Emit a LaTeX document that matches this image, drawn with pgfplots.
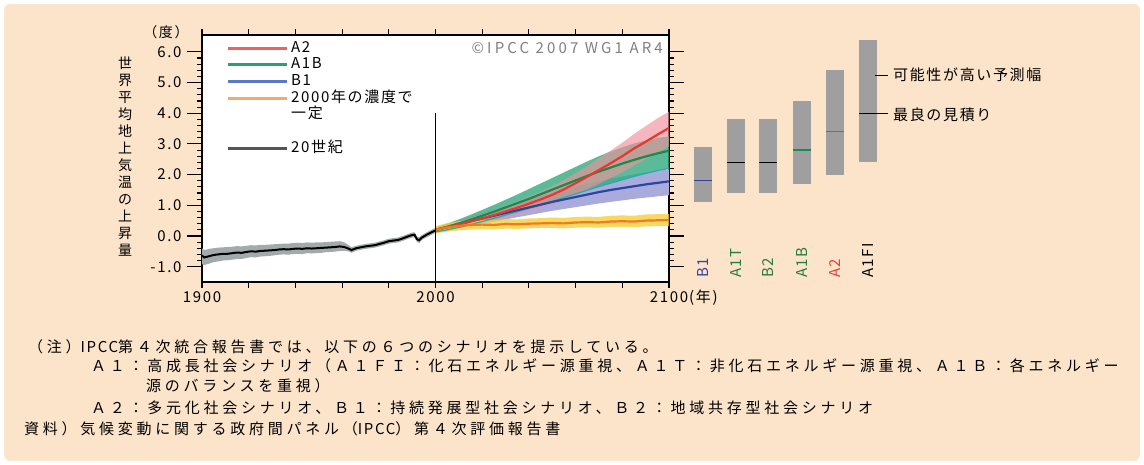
\documentclass[border=0pt]{standalone}
\usepackage{fontspec}
\setmainfont{Noto Sans CJK JP}
\newfontfamily\jpA{Noto Sans CJK JP}[LetterSpace=11]
\newfontfamily\jpB{Noto Sans CJK JP}[LetterSpace=25]
\newfontfamily\jpC{Noto Sans CJK JP}[LetterSpace=21]
\usepackage{pgfplots}
\pgfplotsset{compat=1.18}
\usepackage{pgfplotstable}
\usepgfplotslibrary{fillbetween}
\definecolor{peach}{HTML}{FCE4CA}
\definecolor{a2line}{HTML}{E8372E}
\definecolor{a2band}{HTML}{F0909A}
\definecolor{a1bline}{HTML}{1B8A4E}
\definecolor{a1bband}{HTML}{33AA80}
\definecolor{tealline}{HTML}{1FB0B0}
\definecolor{b1line}{HTML}{2B45A0}
\definecolor{b1band}{HTML}{A9ABDD}
\definecolor{orline}{HTML}{F07A1E}
\definecolor{yelband}{HTML}{F5CF3A}
\definecolor{grayband}{HTML}{A2ABAB}
\definecolor{lgA2}{HTML}{F06060}
\definecolor{lgA1B}{HTML}{2AA070}
\definecolor{lgB1}{HTML}{5A78C8}
\definecolor{lgOr}{HTML}{F8A868}
\definecolor{lgXX}{HTML}{555555}
\definecolor{barg}{HTML}{9F9F9F}
\definecolor{cpgray}{HTML}{808080}
\definecolor{lbblue}{HTML}{3344A0}
\definecolor{lbgreen}{HTML}{2A7A3A}
\definecolor{lbred}{HTML}{F03A3A}
\pagecolor{peach}

\pgfplotstableread{
year mean lo hi
1900 -0.64 -0.92 -0.40
1901 -0.70 -0.95 -0.46
1903 -0.66 -0.90 -0.42
1905 -0.62 -0.85 -0.40
1907 -0.60 -0.83 -0.38
1909 -0.58 -0.80 -0.37
1911 -0.58 -0.79 -0.36
1913 -0.56 -0.77 -0.35
1915 -0.54 -0.75 -0.33
1917 -0.55 -0.75 -0.34
1919 -0.52 -0.72 -0.32
1921 -0.50 -0.69 -0.30
1923 -0.51 -0.70 -0.31
1925 -0.49 -0.67 -0.29
1927 -0.48 -0.66 -0.29
1929 -0.47 -0.65 -0.28
1931 -0.46 -0.63 -0.27
1933 -0.44 -0.61 -0.26
1935 -0.43 -0.60 -0.25
1937 -0.44 -0.61 -0.25
1939 -0.42 -0.59 -0.23
1941 -0.41 -0.58 -0.22
1943 -0.42 -0.59 -0.23
1945 -0.40 -0.56 -0.21
1947 -0.41 -0.57 -0.22
1949 -0.40 -0.56 -0.21
1951 -0.39 -0.55 -0.21
1953 -0.38 -0.53 -0.20
1955 -0.37 -0.52 -0.19
1957 -0.36 -0.51 -0.18
1959 -0.34 -0.49 -0.17
1961 -0.36 -0.48 -0.21
1963 -0.42 -0.51 -0.31
1964 -0.46 -0.55 -0.37
1966 -0.40 -0.48 -0.32
1968 -0.37 -0.45 -0.29
1970 -0.34 -0.42 -0.26
1972 -0.32 -0.40 -0.24
1974 -0.30 -0.38 -0.22
1976 -0.26 -0.34 -0.18
1978 -0.22 -0.30 -0.14
1980 -0.17 -0.25 -0.09
1982 -0.15 -0.23 -0.07
1984 -0.13 -0.21 -0.05
1986 -0.08 -0.16 0.00
1988 -0.02 -0.10 0.06
1990 0.03 -0.05 0.11
1991 0.04 -0.04 0.12
1992 -0.10 -0.19 -0.01
1993 -0.14 -0.23 -0.05
1994 -0.06 -0.14 0.02
1996 0.03 -0.05 0.11
1998 0.11 0.03 0.19
2000 0.18 0.10 0.26
}\tC

\pgfplotstableread{
year mean lo hi
2000 0.20 0.13 0.27
2005 0.28 0.19 0.37
2010 0.37 0.26 0.48
2015 0.47 0.34 0.60
2020 0.57 0.42 0.72
2025 0.68 0.51 0.85
2030 0.80 0.60 0.99
2035 0.92 0.70 1.13
2040 1.05 0.80 1.28
2045 1.19 0.92 1.44
2050 1.34 1.04 1.62
2055 1.52 1.18 1.82
2060 1.72 1.34 2.04
2065 1.93 1.52 2.28
2070 2.15 1.70 2.53
2075 2.37 1.89 2.78
2080 2.60 2.08 3.04
2085 2.85 2.29 3.32
2090 3.07 2.50 3.58
2095 3.30 2.71 3.83
2100 3.52 2.92 4.05
}\tA

\pgfplotstableread{
year mean lo hi
2000 0.20 0.13 0.27
2005 0.30 0.20 0.40
2010 0.41 0.28 0.54
2015 0.53 0.37 0.69
2020 0.66 0.47 0.85
2025 0.79 0.57 1.01
2030 0.93 0.68 1.18
2035 1.07 0.79 1.35
2040 1.21 0.90 1.53
2045 1.36 1.01 1.71
2050 1.51 1.13 1.89
2055 1.66 1.25 2.07
2060 1.81 1.37 2.25
2065 1.96 1.49 2.43
2070 2.10 1.61 2.60
2075 2.23 1.72 2.75
2080 2.36 1.83 2.89
2085 2.48 1.94 3.01
2090 2.59 2.04 3.11
2095 2.69 2.13 3.19
2100 2.78 2.20 3.25
}\tB

\pgfplotstableread{
year mean lo hi
2000 0.20 0.13 0.27
2005 0.29 0.19 0.39
2010 0.38 0.26 0.50
2015 0.48 0.33 0.62
2020 0.57 0.40 0.74
2025 0.66 0.47 0.86
2030 0.75 0.54 0.97
2035 0.84 0.61 1.08
2040 0.93 0.68 1.19
2045 1.02 0.75 1.30
2050 1.11 0.82 1.41
2055 1.19 0.88 1.51
2060 1.27 0.94 1.61
2065 1.35 1.00 1.70
2070 1.43 1.06 1.79
2075 1.50 1.11 1.87
2080 1.56 1.16 1.94
2085 1.62 1.21 2.01
2090 1.68 1.25 2.07
2095 1.73 1.29 2.12
2100 1.78 1.33 2.17
}\tBone

\pgfplotstableread{
year mean lo hi
2000 0.20 0.08 0.32
2005 0.28 0.14 0.42
2010 0.33 0.18 0.48
2015 0.36 0.21 0.51
2020 0.37 0.22 0.53
2025 0.36 0.21 0.52
2030 0.39 0.24 0.55
2035 0.38 0.23 0.54
2040 0.40 0.25 0.57
2045 0.41 0.26 0.58
2050 0.42 0.26 0.60
2055 0.41 0.25 0.59
2060 0.44 0.27 0.62
2065 0.45 0.28 0.63
2070 0.44 0.27 0.62
2075 0.47 0.29 0.66
2080 0.48 0.30 0.67
2085 0.47 0.29 0.66
2090 0.50 0.31 0.70
2095 0.51 0.32 0.71
2100 0.52 0.32 0.72
}\tO

\begin{document}
\begin{tikzpicture}[x=1pt,y=1pt]
\fill[white, even odd rule] (0,0) rectangle (1144,465) [rounded corners=6pt] (4,4) rectangle (1140,461);

\begin{axis}[
  at={(202pt,183pt)}, anchor=south west, scale only axis,
  width=467pt, height=247pt,
  xmin=1900, xmax=2100, ymin=-1.5, ymax=6.55,
  axis background/.style={fill=white},
  axis line style={line width=1.1pt},
  xtick=\empty,
  extra x ticks={1900,1920,...,2100},
  extra x tick labels={1900,,,,,2000,,,,,2100},
  extra x tick style={major tick length=6pt},
  ytick={-1,0,...,6},
  yticklabels={-1.0,0.0,1.0,2.0,3.0,4.0,5.0,6.0},
  minor y tick num=4,
  tick align=outside,
  xtick pos=both, ytick pos=both,
  xticklabel pos=bottom, yticklabel pos=left,
  major tick length=15pt, minor tick length=5pt,
  tick style={line width=1.1pt, black},
  /pgf/number format/assume math mode=true,
  tick label style={font=\jpA\fontsize{15}{15}\selectfont},
  yticklabel style={xshift=-2pt},
  legend image code/.code={\draw[#1] (0pt,0pt) -- (59pt,0pt); \path (62pt,0pt);},
  legend style={at={(rel axis cs:0.0514,0.976)}, anchor=north west, draw=none, fill=none,
    inner sep=0pt, row sep=2.7pt, font=\jpA\fontsize{15}{15}\selectfont,
    nodes={inner sep=0pt, text height=11pt, text depth=3pt}, cells={anchor=west}},
]
\addlegendimage{lgA2, line width=3pt}\addlegendentry{A2}
\addlegendimage{lgA1B, line width=3pt}\addlegendentry{A1B}
\addlegendimage{lgB1, line width=3pt}\addlegendentry{B1}
\addlegendimage{lgOr, line width=3pt}\addlegendentry{2000年の濃度で}
\addlegendimage{empty legend}\addlegendentry{一定}
\addlegendimage{empty legend}\addlegendentry{\phantom{一}}
\addlegendimage{lgXX, line width=3pt}\addlegendentry{20世紀}

% 20th century
\addplot[draw=none, name path=chi, forget plot] table[x=year,y=hi]{\tC};
\addplot[draw=none, name path=clo, forget plot] table[x=year,y=lo]{\tC};
\addplot[fill=grayband, draw=none, forget plot] fill between[of=chi and clo];
\addplot[black, line width=2pt, forget plot] table[x=year,y=mean]{\tC};

% bands
\addplot[draw=none, name path=bhi, forget plot] table[x=year,y=hi]{\tBone};
\addplot[draw=none, name path=blo, forget plot] table[x=year,y=lo]{\tBone};
\addplot[fill=b1band, draw=none, forget plot] fill between[of=bhi and blo];
\addplot[draw=none, name path=ghi, forget plot] table[x=year,y=hi]{\tB};
\addplot[draw=none, name path=glo, forget plot] table[x=year,y=lo]{\tB};
\addplot[fill=a1bband, fill opacity=0.8, draw=none, forget plot] fill between[of=ghi and glo];
\addplot[draw=none, name path=rhi, forget plot] table[x=year,y=hi]{\tA};
\addplot[draw=none, name path=rlo, forget plot] table[x=year,y=lo]{\tA};
\addplot[fill=a2band, fill opacity=0.65, draw=none, forget plot] fill between[of=rhi and rlo];
\addplot[draw=none, name path=ohi, forget plot] table[x=year,y=hi]{\tO};
\addplot[draw=none, name path=olo, forget plot] table[x=year,y=lo]{\tO};
\addplot[fill=yelband, fill opacity=0.8, draw=none, forget plot] fill between[of=ohi and olo];

% lines
\addplot[tealline, line width=1.2pt, forget plot] table[x=year,y=lo]{\tB};
\addplot[b1line, line width=2.2pt, forget plot] table[x=year,y=mean]{\tBone};
\addplot[a1bline, line width=2.2pt, forget plot] table[x=year,y=mean]{\tB};
\addplot[a2line, line width=2.2pt, forget plot] table[x=year,y=mean]{\tA};
\addplot[orline, line width=2.2pt, forget plot] table[x=year,y=mean]{\tO};

\addplot[black, line width=1.1pt, forget plot] coordinates {(2000,-1.5) (2000,4.0)};
\end{axis}

% right panel
\begin{axis}[
  at={(680pt,183pt)}, anchor=south west, scale only axis,
  width=220pt, height=247pt,
  xmin=680, xmax=900, ymin=-1.5, ymax=6.55,
  hide axis, clip=false,
]
\addplot[fill=barg, draw=none] coordinates {(693.5,1.1) (711.5,1.1) (711.5,2.9) (693.5,2.9)} -- cycle;
\addplot[fill=barg, draw=none] coordinates {(726.5,1.4) (744.5,1.4) (744.5,3.8) (726.5,3.8)} -- cycle;
\addplot[fill=barg, draw=none] coordinates {(759,1.4) (777,1.4) (777,3.8) (759,3.8)} -- cycle;
\addplot[fill=barg, draw=none] coordinates {(793,1.7) (811,1.7) (811,4.4) (793,4.4)} -- cycle;
\addplot[fill=barg, draw=none] coordinates {(826,2.0) (844,2.0) (844,5.4) (826,5.4)} -- cycle;
\addplot[fill=barg, draw=none] coordinates {(859,2.4) (877,2.4) (877,6.4) (859,6.4)} -- cycle;
\addplot[lbblue, line width=1.2pt] coordinates {(693.5,1.8) (711.5,1.8)};
\addplot[black, line width=1.2pt] coordinates {(726.5,2.4) (744.5,2.4)};
\addplot[black, line width=1.2pt] coordinates {(759,2.4) (777,2.4)};
\addplot[a1bline, line width=1.2pt] coordinates {(793,2.8) (811,2.8)};
\addplot[lbred, line width=1.2pt] coordinates {(826,3.4) (844,3.4)};
\addplot[black, line width=1.2pt] coordinates {(859,4.0) (888,4.0)};
\addplot[black, line width=1.2pt] coordinates {(875,5.24) (888,5.24)};
\end{axis}

% right panel labels
\begin{scope}[every node/.style={font=\jpA\fontsize{15}{15}\selectfont, rotate=90, anchor=west, inner sep=0pt}]
\node[text=lbblue] at (702.5,187) {B1};
\node[text=lbgreen] at (735.5,187) {A1T};
\node[text=lbgreen] at (768,187) {B2};
\node[text=lbgreen] at (802,187) {A1B};
\node[text=lbred] at (835,187) {A2};
\node[text=black] at (868,187) {A1FI};
\end{scope}

\node[font=\jpA\fontsize{15}{15}\selectfont, anchor=west, inner sep=0pt] at (893,390) {可能性が高い予測幅};
\node[font=\jpA\fontsize{15}{15}\selectfont, anchor=west, inner sep=0pt] at (893,350) {最良の見積り};

% axis titles
\node[font=\jpA\fontsize{14}{17}\selectfont, align=center, inner sep=0pt] at (125,308.5)
 {世\\界\\平\\均\\地\\上\\気\\温\\の\\上\\昇\\量};
\node[font=\jpA\fontsize{14}{14}\selectfont, inner sep=0pt] at (166,433) {（度）};
\node[font=\jpA\fontsize{15}{15}\selectfont, anchor=west, inner sep=0pt] at (689,167) {(年)};
\node[font=\jpC\fontsize{15}{15}\selectfont, text=cpgray, anchor=east, inner sep=0pt] at (663,417) {©IPCC 2007 WG1 AR4};

% caption
\begin{scope}[every node/.style={font=\jpB\fontsize{15}{15}\selectfont, anchor=base west, inner sep=0pt}]
\node at (28,112.3) {（注）{\jpA IPCC}第４次統合報告書では、以下の６つのシナリオを提示している。};
\node at (91,93.3) {Ａ１：高成長社会シナリオ（Ａ１ＦＩ：化石エネルギー源重視、Ａ１Ｔ：非化石エネルギー源重視、Ａ１Ｂ：各エネルギー};
\node at (146,73.3) {源のバランスを重視）};
\node at (91,51.3) {Ａ２：多元化社会シナリオ、Ｂ１：持続発展型社会シナリオ、Ｂ２：地域共存型社会シナリオ};
\node at (24,30.3) {資料）気候変動に関する政府間パネル（{\jpA IPCC}）第４次評価報告書};
\end{scope}
\end{tikzpicture}
\end{document}
